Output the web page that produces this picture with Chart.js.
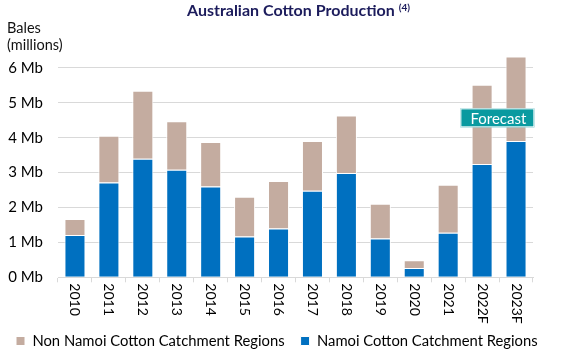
<!DOCTYPE html>
<html><head><meta charset="utf-8">
<script src="https://cdn.jsdelivr.net/npm/chart.js@4.4.1/dist/chart.umd.min.js"></script>
<style>html,body{margin:0;padding:0;background:#fff;}</style>
</head><body>
<canvas id="c" width="575" height="361" style="display:block;width:575px;height:361px"></canvas>
<script>
const categories = ['2010','2011','2012','2013','2014','2015','2016','2017','2018','2019','2020','2021','2022F','2023F'];
const namoi    = [1.21, 2.72, 3.40, 3.08, 2.60, 1.17, 1.40, 2.48, 2.99, 1.11, 0.27, 1.28, 3.25, 3.91];
const nonNamoi = [0.46, 1.34, 1.95, 1.39, 1.28, 1.14, 1.36, 1.43, 1.65, 1.00, 0.22, 1.37, 2.27, 2.42];
const yTicks = [0, 1, 2, 3, 4, 5, 6];
const yTickLabels = ['0 Mb','1 Mb','2 Mb','3 Mb','4 Mb','5 Mb','6 Mb'];
const seriesNames = ['Namoi Cotton Catchment Regions', 'Non Namoi Cotton Catchment Regions'];
const titleText = 'Australian Cotton Production';
const titleSup = '(4)';
const yTitle = ['Bales', '(millions)'];
const forecastText = 'Forecast';
const forecastLevel = 4.57;

const FONT = 'Lato';

const overlay = {
  id: 'overlay',
  afterDraw(chart) {
    const ctx = chart.ctx;
    const xs = chart.scales.x, ys = chart.scales.y;
    ctx.save();
    // title
    ctx.fillStyle = '#1c1c5c';
    ctx.textBaseline = 'alphabetic';
    ctx.textAlign = 'left';
    ctx.font = 'bold 16px ' + FONT;
    const w1 = ctx.measureText(titleText).width;
    ctx.font = 'bold 10px ' + FONT;
    const w2 = ctx.measureText(titleSup).width;
    const total = w1 + 4 + w2;
    const sx = 298.5 - total / 2;
    ctx.font = 'bold 16px ' + FONT;
    ctx.fillText(titleText, sx, 16);
    ctx.font = 'bold 10px ' + FONT;
    ctx.fillText(titleSup, sx + w1 + 4, 11);
    // y title
    ctx.fillStyle = '#111';
    ctx.font = '14.5px ' + FONT;
    ctx.fillText(yTitle[0], 7, 33);
    ctx.fillText(yTitle[1], 7, 50);
    // x labels rotated clockwise
    ctx.font = '14px ' + FONT;
    ctx.fillStyle = '#000';
    ctx.textBaseline = 'middle';
    categories.forEach((c, i) => {
      const x = xs.getPixelForValue(i);
      ctx.save();
      ctx.translate(x, xs.top + 6);
      ctx.rotate(Math.PI / 2);
      ctx.fillText(c, 0, 0);
      ctx.restore();
    });
    // forecast box
    const n = categories.length;
    const xc = (xs.getPixelForValue(n - 2) + xs.getPixelForValue(n - 1)) / 2 - 1.7;
    const yc = ys.getPixelForValue(forecastLevel);
    const bw = 74, bh = 19;
    ctx.fillStyle = '#0A9AA0';
    ctx.fillRect(xc - bw / 2, yc - bh / 2, bw, bh);
    ctx.strokeStyle = '#ffffff';
    ctx.lineWidth = 1;
    ctx.strokeRect(xc - bw / 2 + 0.5, yc - bh / 2 + 0.5, bw - 1, bh - 1);
    ctx.fillStyle = '#ffffff';
    ctx.font = '15px ' + FONT;
    ctx.textAlign = 'center';
    ctx.textBaseline = 'middle';
    ctx.fillText(forecastText, xc + 1, yc + 1);
    ctx.restore();
  }
};

new Chart(document.getElementById('c'), {
  type: 'bar',
  data: {
    labels: categories,
    datasets: [
      { label: seriesNames[0], data: namoi, backgroundColor: '#0070C0', borderColor: '#ffffff', borderWidth: 1, stack: 's' },
      { label: seriesNames[1], data: nonNamoi, backgroundColor: '#C4ACA0', borderColor: '#ffffff', borderWidth: 1, stack: 's' }
    ]
  },
  options: {
    responsive: false,
    animation: false,
    devicePixelRatio: 1,
    layout: { padding: { top: 54, left: 0, right: 0, bottom: 2.6 } },
    datasets: { bar: { barPercentage: 0.62, categoryPercentage: 1 } },
    scales: {
      x: {
        stacked: true,
        grid: { display: true, drawOnChartArea: false, drawTicks: true, tickLength: 5, color: '#D9D9D9', offset: true },
        border: { color: '#D9D9D9' },
        ticks: { display: false },
        afterFit(s) { s.height = 40.3; }
      },
      y: {
        stacked: true, min: 0, max: 6.4,
        ticks: {
          padding: 15, color: '#000',
          font: { family: FONT, size: 15 },
          callback: (v) => { const k = yTicks.indexOf(v); return k >= 0 ? yTickLabels[k] : ''; }
        },
        grid: { color: '#D9D9D9', drawTicks: false },
        border: { display: false },
        afterBuildTicks(s) { s.ticks = yTicks.map(v => ({ value: v })); },
        afterFit(s) { s.width = 58; }
      },
      y2: {
        position: 'right', min: 0, max: 1,
        grid: { display: false, drawTicks: false },
        border: { display: false },
        ticks: { display: false },
        afterFit(s) { s.width = 42; }
      }
    },
    plugins: {
      legend: {
        position: 'bottom', reverse: true, align: 'start',
        labels: { boxWidth: 9, boxHeight: 9, padding: 16, color: '#000', font: { family: FONT, size: 14.8 } }
      },
      tooltip: { enabled: false },
      title: { display: false }
    }
  },
  plugins: [overlay]
});
</script>
</body></html>
